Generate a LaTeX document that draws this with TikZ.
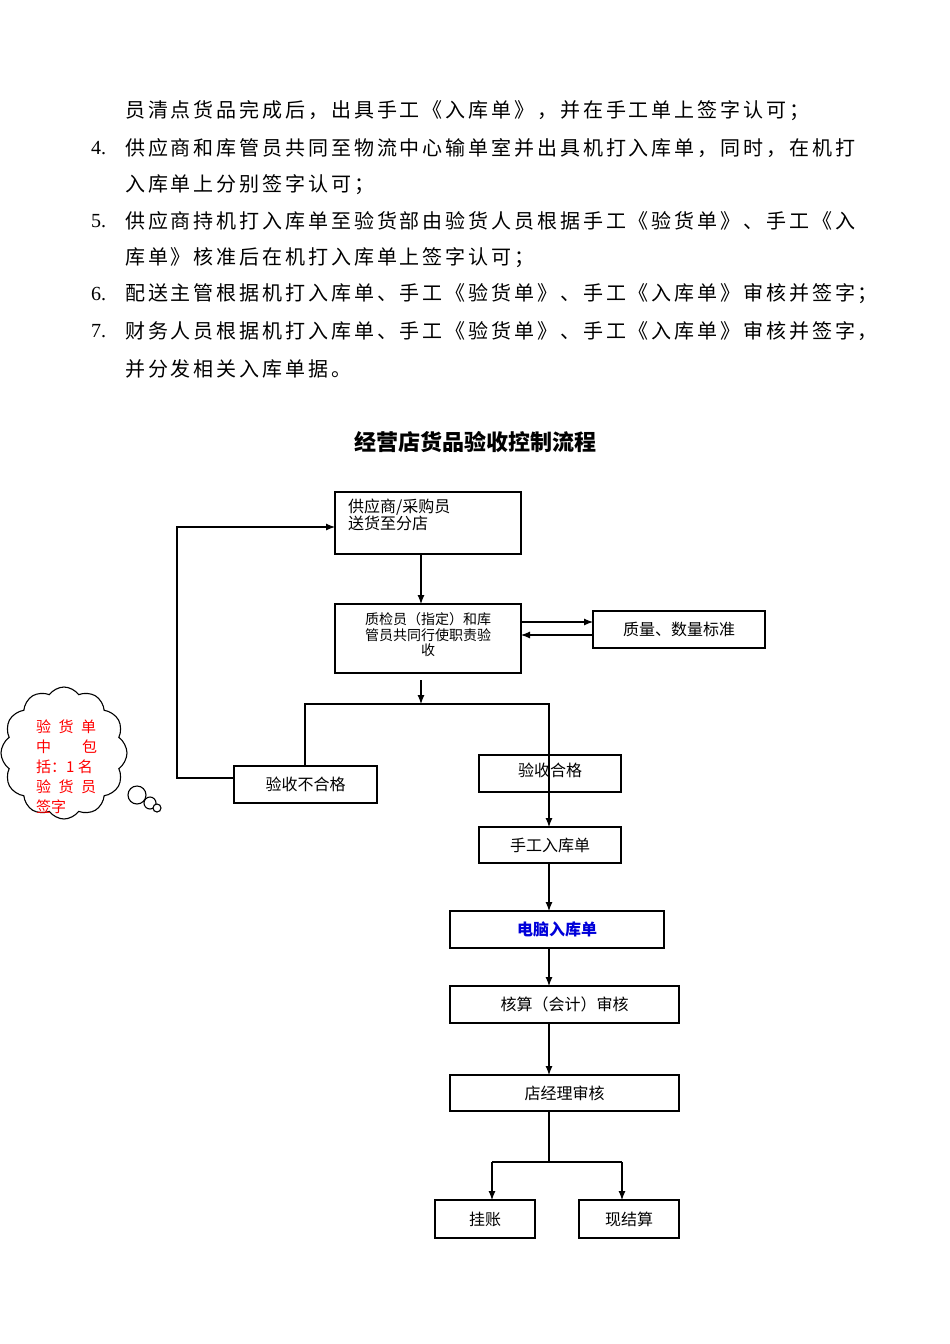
\documentclass[tikz,border=0pt]{standalone}
\usepackage{fontspec}
\setmainfont{Liberation Serif}
\newfontfamily\cjk{Noto Sans CJK SC}
\newfontfamily\cjkbody[LetterSpace=14.5]{Noto Sans CJK SC}
\usetikzlibrary{arrows.meta,shapes.symbols}
\begin{document}
\begin{tikzpicture}[x=1pt,y=-1pt,
  bx/.style={draw,line width=1.1pt,inner sep=0pt},
  ar/.style={-{Latex[length=9pt,width=7pt]},line width=1.1pt},
  ln/.style={line width=1.1pt},
  bl/.style={anchor=west,font=\cjkbody\fontsize{20}{20}\selectfont,inner sep=0pt},
  num/.style={anchor=west,font=\fontsize{20}{20}\selectfont,inner sep=0pt},
  lab/.style={font=\cjk\fontsize{16}{17}\selectfont}]
\useasboundingbox (0,0) rectangle (950,1344);
% body text
\node[bl] (l1) at (125,111) {员清点货品完成后，出具手工《入库单》，并在手工单上签字认可；};
\node[num] (n4) at (91,148) {4.};
\node[bl] (l2) at (125,148) {供应商和库管员共同至物流中心输单室并出具机打入库单，同时，在机打};
\node[bl] (l3) at (125,185) {入库单上分别签字认可；};
\node[num] (n5) at (91,221) {5.};
\node[bl] (l4) at (125,221) {供应商持机打入库单至验货部由验货人员根据手工《验货单》、手工《入};
\node[bl] (l5) at (125,258) {库单》核准后在机打入库单上签字认可；};
\node[num] (n6) at (91,294) {6.};
\node[bl] (l6) at (125,294) {配送主管根据机打入库单、手工《验货单》、手工《入库单》审核并签字；};
\node[num] (n7) at (91,331) {7.};
\node[bl] (l7) at (125,331) {财务人员根据机打入库单、手工《验货单》、手工《入库单》审核并签字，};
\node[bl] (l8) at (125,369) {并分发相关入库单据。};
\node[font=\cjk\bfseries\fontsize{22}{22}\selectfont] (title) at (475,442) {经营店货品验收控制流程};
% boxes
\node[bx,minimum width=186,minimum height=62] (sup) at (428,523) {};
\node[lab,anchor=north west,align=left,inner sep=0pt] (supt) at (348,499) {供应商/采购员\\送货至分店};
\node[bx,minimum width=186,minimum height=69] (qc) at (428,638.5) {};
\node[align=center,font=\cjk\fontsize{14}{15.5}\selectfont,inner sep=0pt] (qct) at (428,635) {质检员（指定）和库\\管员共同行使职责验\\收};
\node[bx,lab,minimum width=172,minimum height=37] (std) at (679,629.5) {质量、数量标准};
\node[bx,lab,minimum width=143,minimum height=37] (bad) at (305.5,784.5) {验收不合格};
\node[bx,minimum width=142,minimum height=37] (ok) at (550,773.5) {};
\node[lab] (okt) at (550,770) {验收合格};
\node[bx,lab,minimum width=142,minimum height=36] (manual) at (550,845) {手工入库单};
\node[bx,minimum width=214,minimum height=37,font=\cjk\bfseries\fontsize{16}{17}\selectfont,text=blue!85!black] (pc) at (557,929.5) {电脑入库单};
\node[bx,lab,minimum width=229,minimum height=37] (acc) at (564.5,1004.5) {核算（会计）审核};
\node[bx,lab,minimum width=229,minimum height=36] (mgr) at (564.5,1093) {店经理审核};
\node[bx,lab,minimum width=100,minimum height=38] (gz) at (485,1219) {挂账};
\node[bx,lab,minimum width=100,minimum height=38] (xj) at (629,1219) {现结算};
% connectors
\draw[ar] (421,554) -- (421,604);
\draw[ar] (521,622) -- (593,622);
\draw[ar] (593,635) -- (521,635);
\coordinate (f0) at (421,680);
\coordinate (f1) at (421,704);
\draw[ar] (f0) -- (f1);
\draw[ln] (305,766) -- (305,704) -- (549,704) -- (549,792);
\coordinate (lc) at (177,778);
\draw[ar] (234,778) -- (lc) -- (177,527) -- (335,527);
\draw[ar] (549,792) -- (549,827);
\draw[ar] (549,863) -- (549,911);
\draw[ar] (549,948) -- (549,986);
\draw[ar] (549,1023) -- (549,1075);
\draw[ln] (549,1111) -- (549,1162);
\draw[ar] (492,1162) -- (492,1200);
\draw[ar] (622,1162) -- (622,1200);
\draw[ln] (492,1162) -- (622,1162);
% cloud
\node[cloud,draw,line width=1.1pt,cloud puffs=12,cloud puff arc=110,aspect=0.9,minimum width=126,minimum height=132,inner sep=0pt] (cl) at (64,753) {};
\draw[line width=1.1pt,fill=white] (137,795) circle (9);
\draw[line width=1.1pt,fill=white] (150,803) circle (6);
\draw[line width=1.1pt,fill=white] (157,808) circle (4);
\node[anchor=north west,align=left,text=red,font=\cjk\fontsize{15}{20}\selectfont,inner sep=0pt] (clt) at (36,720)
{验\,\,\,货\,\,\,单\\中\hspace{31pt}包\\括：1 名\\验\,\,\,货\,\,\,员\\签字};
\end{tikzpicture}
\end{document}
